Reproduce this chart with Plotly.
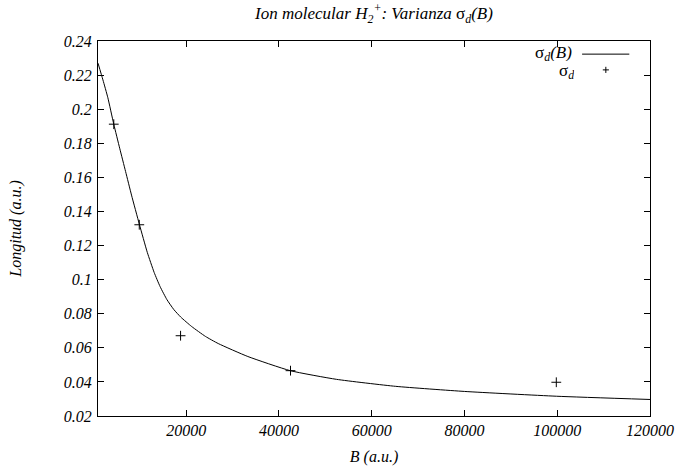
import plotly.graph_objects as go

# Measured points sigma_d
b_points = [4400, 9900, 18800, 42500, 99800]
sigma_points = [0.1912, 0.1322, 0.0671, 0.0466, 0.0398]

# Fitted curve sigma_d(B)
b_curve = [1000, 2060, 3125, 4400, 5675, 6950, 8225, 9925, 11625, 13110, 14390, 15875,
           17360, 18850, 21190, 24160, 26925, 33300, 42440, 52425, 65175, 80050, 99810, 120000]
sigma_curve = [0.227, 0.2172, 0.2067, 0.1912, 0.1771, 0.1634, 0.1496, 0.1324, 0.116, 0.1042,
               0.0959, 0.0882, 0.0824, 0.078, 0.0725, 0.0667, 0.0625, 0.0549, 0.0466, 0.0415,
               0.0374, 0.0344, 0.0316, 0.0297]

x_tickvals = [20000, 40000, 60000, 80000, 100000, 120000]
x_ticktext = ["20000", "40000", "60000", "80000", "100000", "120000"]
y_tickvals = [0.02, 0.04, 0.06, 0.08, 0.1, 0.12, 0.14, 0.16, 0.18, 0.2, 0.22, 0.24]
y_ticktext = ["0.02", "0.04", "0.06", "0.08", "0.1", "0.12", "0.14", "0.16", "0.18", "0.2", "0.22", "0.24"]

SIG = '<span style="font-style:normal">σ</span>'
FONT = "Liberation Serif"
TICK_SIZE = 16
TEXT_SIZE = 17

fig = go.Figure()
fig.add_trace(go.Scatter(x=b_curve, y=sigma_curve, mode="lines",
                         line=dict(color="black", width=1, shape="spline", smoothing=0.5),
                         name="σd(B)", showlegend=False, hoverinfo="skip"))
fig.add_trace(go.Scatter(x=b_points, y=sigma_points, mode="markers",
                         marker=dict(symbol="cross-thin", size=7, line=dict(color="black", width=1)),
                         name="σd", showlegend=False))

axis_common = dict(showgrid=False, zeroline=False, showline=True, linecolor="black", linewidth=1,
                   mirror="ticks", ticks="inside", ticklen=6, tickcolor="black", tickwidth=1,
                   tickfont=dict(family=FONT, size=TICK_SIZE, color="black", style="italic"))

fig.update_xaxes(range=[1000, 120000], tickvals=x_tickvals, ticktext=x_ticktext,
                 title=dict(text="B (a.u.)", font=dict(family=FONT, size=TICK_SIZE, color="black", style="italic"),
                            standoff=12),
                 **axis_common)
fig.update_yaxes(range=[0.02, 0.24], tickvals=y_tickvals, ticktext=y_ticktext,
                 ticklabelstandoff=2,
                 title=dict(text="Longitud (a.u.)", font=dict(family=FONT, size=TICK_SIZE, color="black", style="italic"),
                            standoff=38),
                 **axis_common)

# legend (drawn manually to keep the gnuplot layout: text then sample)
fig.add_annotation(xref="paper", yref="paper", x=0.862, y=0.966, xanchor="right", yanchor="middle",
                   text=SIG + "<sub>d</sub>(B)", showarrow=False, height=15, valign="middle",
                   font=dict(family=FONT, size=TEXT_SIZE, color="black", style="italic"))
fig.add_annotation(xref="paper", yref="paper", x=0.866, y=0.919, xanchor="right", yanchor="middle",
                   text=SIG + "<sub>d</sub>", showarrow=False, height=15, valign="middle",
                   font=dict(family=FONT, size=TEXT_SIZE, color="black", style="italic"))
fig.add_shape(type="line", xref="paper", yref="paper", x0=0.877, x1=0.9625, y0=0.965, y1=0.965,
              line=dict(color="black", width=1))
fig.add_shape(type="line", xref="paper", yref="paper", x0=0.92 - 0.0055, x1=0.92 + 0.0055, y0=0.923, y1=0.923,
              line=dict(color="black", width=1))
fig.add_shape(type="line", xref="paper", yref="paper", x0=0.92, x1=0.92, y0=0.923 - 0.0082, y1=0.923 + 0.0082,
              line=dict(color="black", width=1))

fig.update_layout(
    width=686, height=474,
    margin=dict(l=98, r=28, t=41, b=57),
    paper_bgcolor="white", plot_bgcolor="white",
    font=dict(family=FONT, size=TEXT_SIZE, color="black", style="italic"),
    title=dict(text="Ion molecular H<sub>2</sub><sup>+</sup>: Varianza " + SIG + "<sub>d</sub>(B)",
               x=0.5, xref="paper", xanchor="center", y=1 - 13 / 474, yanchor="middle",
               font=dict(family=FONT, size=TEXT_SIZE, color="black", style="italic")),
    showlegend=False,
)

fig.write_html("out.html", config={"displayModeBar": False},
               post_script="document.body.style.margin='0px';")
